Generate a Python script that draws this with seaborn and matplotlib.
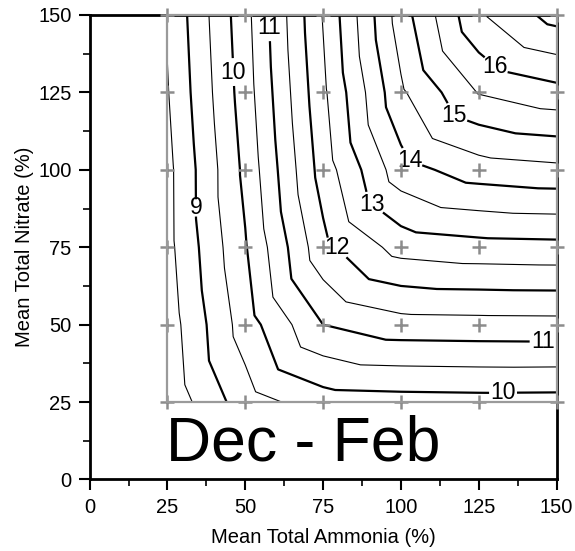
import matplotlib
matplotlib.use("Agg")
import matplotlib.pyplot as plt
import matplotlib.tri as mtri
from matplotlib.ticker import MultipleLocator
import numpy as np
import pandas as pd
import seaborn as sns

# Sampled design levels (percent of mean total concentration)
ammonia = [25, 50, 75, 100, 125, 150]
nitrate = [25, 50, 75, 100, 125, 150]

# Response surface, one row per nitrate level, columns follow ammonia
z_n25 = [8.14, 9.27, 9.76, 9.80, 9.82, 9.81]
z_n50 = [8.24, 9.75, 11.00, 11.30, 11.32, 11.33]
z_n75 = [8.35, 9.96, 11.86, 12.70, 12.82, 12.85]
z_n100 = [8.36, 10.12, 12.23, 13.80, 14.26, 14.37]
z_n125 = [8.47, 10.25, 12.40, 14.42, 15.53, 15.83]
z_n150 = [8.55, 10.33, 12.53, 14.76, 16.44, 17.20]

minor_levels = [8.5, 9.5, 10.5, 11.5, 12.5, 13.5, 14.5, 15.5, 16.5]
major_levels = [9, 10, 11, 12, 13, 14, 15, 16, 17]
labelled_levels = [9, 10, 11, 12, 13, 14, 15, 16]
axis_ticks = [0, 25, 50, 75, 100, 125, 150]
period = "Dec - Feb"
x_title = "Mean Total Ammonia (%)"
y_title = "Mean Total Nitrate (%)"

# where the inline contour labels sit
label_spots = [(34.5, 87.7), (46.7, 131.6), (57.3, 145.8), (79.5, 75.1),
               (90.7, 89.0), (102.9, 103.2), (117.4, 117.7), (129.9, 132.9),
               (145.6, 43.8), (132.8, 27.3)]

sns.set_style("ticks")
plt.rcParams["font.family"] = ["Liberation Sans", "DejaVu Sans"]

z_rows = [z_n25, z_n50, z_n75, z_n100, z_n125, z_n150]
grid = pd.DataFrame(
    [(a, n, z) for n, row in zip(nitrate, z_rows) for a, z in zip(ammonia, row)],
    columns=["ammonia", "nitrate", "value"],
)

# linear interpolation on triangles, each cell split lower-left to upper-right
nx = len(ammonia)
tris = []
for j in range(len(nitrate) - 1):
    for i in range(nx - 1):
        ll = j * nx + i
        lr = ll + 1
        ul = ll + nx
        ur = ul + 1
        tris.append([ll, lr, ur])
        tris.append([ll, ur, ul])
tri = mtri.Triangulation(grid["ammonia"].to_numpy(float),
                         grid["nitrate"].to_numpy(float), tris)

fig = plt.figure(figsize=(5.75, 5.51), dpi=100)
ax = fig.add_axes([0.1558, 0.1298, 0.8122, 0.843])

ax.tricontour(tri, grid["value"], levels=minor_levels, colors="black",
              linewidths=0.8, zorder=3)
cs = ax.tricontour(tri, grid["value"], levels=major_levels, colors="black",
                   linewidths=1.6, zorder=3)
labels = ax.clabel(cs, levels=labelled_levels, manual=label_spots,
                   inline=True, fmt="%d", fontsize=16.5, inline_spacing=4)
for t in labels:
    t.set_rotation(0)

# outline of the sampled region and the sample points
a0, a1 = min(ammonia), max(ammonia)
n0, n1 = min(nitrate), max(nitrate)
ax.plot([a0, a1, a1, a0, a0], [n0, n0, n1, n1, n0], color="#9a9a9a",
        lw=1.6, zorder=6, clip_on=False)
sns.scatterplot(data=grid, x="ammonia", y="nitrate", marker="+", s=90,
                color="#8c8c8c", linewidth=1.8, ax=ax, zorder=5,
                clip_on=False, legend=False)

ax.text(68.5, 11.5, period, ha="center", va="center", fontsize=45,
        color="black", zorder=4)

ax.set_xlim(0, 150)
ax.set_ylim(0, 150)
ax.set_xticks(axis_ticks)
ax.set_yticks(axis_ticks)
ax.xaxis.set_minor_locator(MultipleLocator(12.5))
ax.yaxis.set_minor_locator(MultipleLocator(12.5))
ax.tick_params(which="major", direction="out", length=8, width=1.5, pad=5,
               labelsize=14.5, color="black", labelcolor="black")
ax.tick_params(which="minor", direction="out", length=5, width=1.2,
               color="black")
ax.set_xlabel(x_title, fontsize=14.5, color="black", labelpad=8)
ax.set_ylabel(y_title, fontsize=14.5, color="black", labelpad=3)
for side in ["left", "bottom", "right", "top"]:
    ax.spines[side].set_visible(True)
    ax.spines[side].set_color("black")
    ax.spines[side].set_linewidth(2)

fig.savefig("out.png", dpi=100, facecolor="white")
